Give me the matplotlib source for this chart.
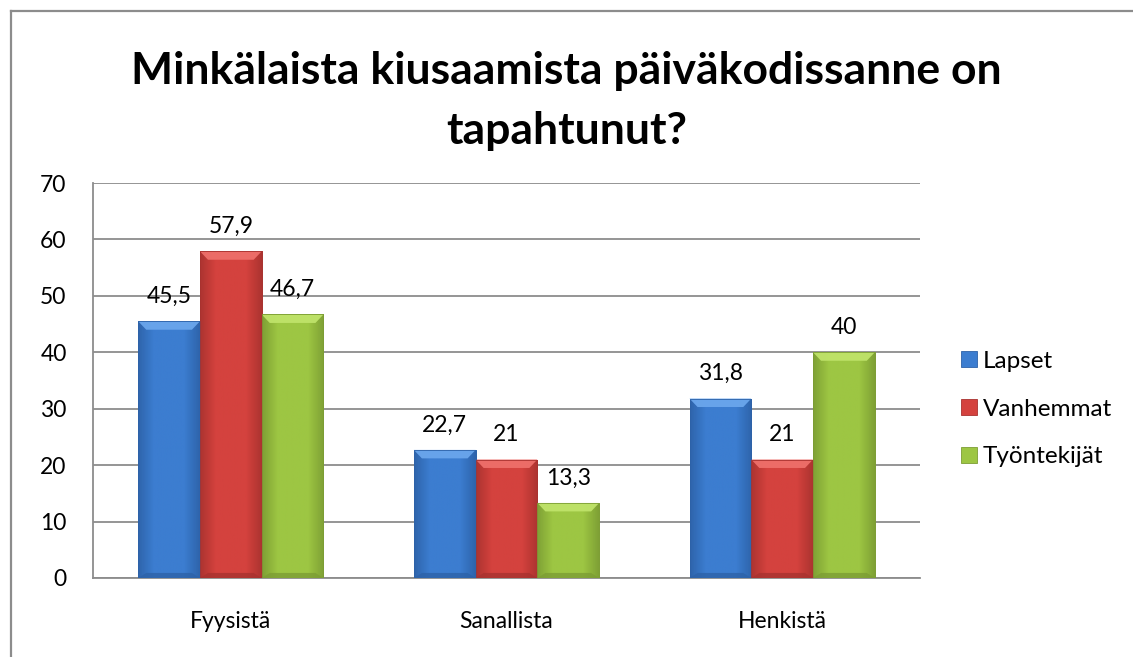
import numpy as np
import matplotlib.pyplot as plt
from matplotlib.lines import Line2D
from matplotlib.patches import Polygon
from matplotlib.colors import LinearSegmentedColormap

# data
categories = ['Fyysistä', 'Sanallista', 'Henkistä']
series = ['Lapset', 'Vanhemmat', 'Työntekijät']
lapset = [45.5, 22.7, 31.8]
vanhemmat = [57.9, 21, 21]
tyontekijat = [46.7, 13.3, 40]
values = [lapset, vanhemmat, tyontekijat]

title = 'Minkälaista kiusaamista päiväkodissanne on\ntapahtunut?'

# (light, mid, dark) shades for the bevelled Excel-ish look
shades = {
    'Lapset': ('#6aa6ec', '#3c7dd0', '#2d62a8'),
    'Vanhemmat': ('#ee6f6a', '#d4423e', '#a8322f'),
    'Työntekijät': ('#bfe36a', '#9dc643', '#7c9d34'),
}

plt.rcParams['font.family'] = ['Lato', 'DejaVu Sans']

fig = plt.figure(figsize=(11.33, 6.57), dpi=100)
ax = fig.add_axes([93 / 1133, 1 - 578 / 657, 827 / 1133, (578 - 183) / 657])

bar_w = 0.224
x = np.arange(len(categories))

for k, name in enumerate(series):
    light, mid, dark = shades[name]
    xs = x + (k - 1) * bar_w
    bars = ax.bar(xs, values[k], width=bar_w, color=mid, edgecolor=dark,
                  linewidth=0.6, label=name, zorder=3)
    # horizontal gradient: darker sides, lighter middle
    hmap = LinearSegmentedColormap.from_list(name + 'h', [dark, mid, mid, mid, dark])
    for b, v in zip(bars, values[k]):
        x0, w, h = b.get_x(), b.get_width(), b.get_height()
        grad = np.linspace(0, 1, 100).reshape(1, -1)
        im = ax.imshow(grad, cmap=hmap, aspect='auto', origin='lower', alpha=0.9,
                       extent=(x0, x0 + w, 0, h), zorder=3.5)
        im.set_clip_path(b)
        # top bevel
        bev_h = 1.5
        bev_dx = w * 0.13
        top = Polygon([(x0, h), (x0 + w, h), (x0 + w - bev_dx, h - bev_h),
                       (x0 + bev_dx, h - bev_h)], closed=True,
                      facecolor=light, edgecolor='none', alpha=0.95, zorder=4)
        ax.add_patch(top)
        # slight shade at the bottom
        bot = Polygon([(x0, 0), (x0 + w, 0), (x0 + w - bev_dx, bev_h * 0.6),
                       (x0 + bev_dx, bev_h * 0.6)], closed=True,
                      facecolor=dark, edgecolor='none', alpha=0.8, zorder=4)
        ax.add_patch(bot)
        ax.add_patch(plt.Rectangle((x0, 0), w, h, fill=False, edgecolor=dark,
                                   linewidth=0.6, zorder=4.5))
        lab = f'{v:g}'.replace('.', ',')
        ax.annotate(lab, (x0 + w / 2, h), xytext=(0, 18), textcoords='offset points',
                    ha='center', va='center', fontsize=16.5, color='black', zorder=5)

ax.set_xlim(-0.5, 2.5)
ax.set_ylim(0, 70)
ax.set_yticks(np.arange(0, 71, 10))
ax.set_xticks(x)
ax.set_xticklabels(categories)
ax.tick_params(axis='both', length=0, labelsize=16.5)
ax.tick_params(axis='y', pad=19)
ax.tick_params(axis='x', pad=24)
ax.grid(axis='y', color='#8c8c8c', linewidth=1.3, zorder=0)
ax.set_axisbelow(True)
for s in ['top', 'right']:
    ax.spines[s].set_visible(False)
for s in ['left', 'bottom']:
    ax.spines[s].set_color('#8c8c8c')
    ax.spines[s].set_linewidth(1.3)

handles = [plt.Rectangle((0, 0), 1, 1, facecolor=shades[n][1], edgecolor=shades[n][2],
                         linewidth=0.6) for n in series]
fig.legend(handles, series, loc='center left', bbox_to_anchor=(961 / 1133, 1 - 409 / 657),
           frameon=False, fontsize=17.5, handlelength=0.65, handleheight=0.65,
           handletextpad=0.25, labelspacing=1.1, borderaxespad=0, borderpad=0)

fig.text(0.5, 1 - 101 / 657, title, ha='center', va='center', fontsize=32,
         fontweight='bold', linespacing=1.6)

# outer chart frame (cropped on right and bottom in the reference)
fig.add_artist(Line2D([11 / 1133, 11 / 1133], [0, 1 - 11 / 657], color='#8c8c8c',
                      linewidth=1.6, transform=fig.transFigure))
fig.add_artist(Line2D([11 / 1133, 1], [1 - 11 / 657, 1 - 11 / 657], color='#8c8c8c',
                      linewidth=1.6, transform=fig.transFigure))

fig.savefig('out.png', dpi=100)
